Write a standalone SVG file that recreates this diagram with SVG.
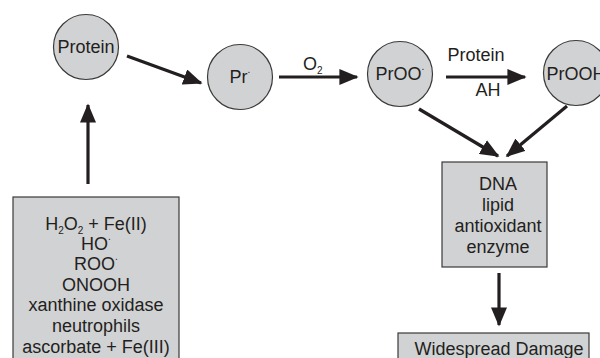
<svg xmlns="http://www.w3.org/2000/svg" width="600" height="358" viewBox="0 0 600 358">
<style>
.n{fill:#d1d2d4;stroke:#3a3a3a;stroke-width:1.2}
.t{font-family:"Liberation Sans",Arial,sans-serif;font-size:18px;fill:#231f20;text-anchor:middle}
.c{stroke:#231f20;stroke-width:3.2;fill:none;marker-end:url(#ah)}
.s{font-size:10px}
</style>
<defs>
<marker id="ah" markerWidth="6" markerHeight="5" refX="5.5" refY="2.5" orient="auto" markerUnits="strokeWidth">
<path d="M0,0 L6,2.5 L0,5 Z" fill="#231f20"/>
</marker>
</defs>
<rect width="600" height="358" fill="#ffffff"/>
<g id="connectors">
<line class="c" x1="127" y1="56" x2="201" y2="83"/>
<line class="c" x1="88" y1="184" x2="88" y2="105"/>
<line class="c" x1="279" y1="77" x2="357" y2="77"/>
<line class="c" x1="446" y1="77" x2="525" y2="77"/>
<line class="c" x1="419" y1="109" x2="498" y2="156"/>
<line class="c" x1="567" y1="106" x2="507" y2="156"/>
<line class="c" x1="499" y1="273" x2="499" y2="325"/>
<text class="t" x="303" y="70" text-anchor="start" style="text-anchor:start">O<tspan class="s" dy="4">2</tspan></text>
<text class="t" x="476" y="61">Protein</text>
<text class="t" x="488" y="96">AH</text>
</g>
<g id="protein">
<circle class="n" cx="86" cy="47" r="32.5"/>
<text class="t" x="86" y="53">Protein</text>
</g>
<g id="pr">
<circle class="n" cx="240" cy="77" r="32.5"/>
<text class="t" x="240" y="83">Pr<tspan class="s" dy="-10">.</tspan></text>
</g>
<g id="proo">
<circle class="n" cx="400" cy="74" r="32.5"/>
<text class="t" x="400" y="80">PrOO<tspan class="s" dy="-10">.</tspan></text>
</g>
<g id="prooh">
<circle class="n" cx="576" cy="73" r="32.5"/>
<text class="t" x="576" y="80">PrOOH</text>
</g>
<g id="sources">
<rect class="n" x="13" y="197" width="166" height="165"/>
<text class="t" x="96" y="230">H<tspan class="s" dy="4">2</tspan><tspan dy="-4">O</tspan><tspan class="s" dy="4">2</tspan><tspan dy="-4"> + Fe(II)</tspan></text>
<text class="t" x="96" y="250">HO<tspan class="s" dy="-10">.</tspan></text>
<text class="t" x="96" y="270">ROO<tspan class="s" dy="-10">.</tspan></text>
<text class="t" x="96" y="291">ONOOH</text>
<text class="t" x="96" y="311">xanthine oxidase</text>
<text class="t" x="96" y="332">neutrophils</text>
<text class="t" x="96" y="353">ascorbate + Fe(III)</text>
</g>
<g id="targets">
<rect class="n" x="442" y="162" width="105" height="105"/>
<text class="t" x="498" y="190">DNA</text>
<text class="t" x="498" y="211">lipid</text>
<text class="t" x="498" y="232">antioxidant</text>
<text class="t" x="498" y="253">enzyme</text>
</g>
<g id="damage">
<rect class="n" x="398" y="333" width="191" height="30"/>
<text class="t" x="499" y="355">Widespread Damage</text>
</g>
</svg>
